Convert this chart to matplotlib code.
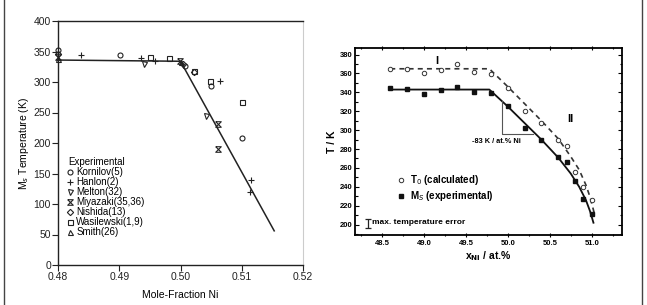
import matplotlib
matplotlib.use("Agg")
import matplotlib.pyplot as plt
from matplotlib.lines import Line2D

plt.rcParams['font.family'] = ['Liberation Sans', 'DejaVu Sans']

# ---------------- Left panel data ----------------
kornilov_x = [0.480, 0.4901, 0.5008, 0.5049, 0.5101]
kornilov_y = [352, 344, 327, 293, 208]
hanlon_x = [0.4838, 0.4935, 0.4958, 0.5064, 0.5115, 0.5114]
hanlon_y = [344, 339, 334, 301, 139, 119]
melton_x = [0.4940, 0.5041]
melton_y = [329, 244]
miyazaki_x = [0.480, 0.4999, 0.5061, 0.5061]
miyazaki_y = [341, 334, 231, 190]
nishida_x = [0.480, 0.5022, 0.5004]
nishida_y = [346, 316, 330]
wasilewski_x = [0.4951, 0.4981, 0.5048, 0.5101, 0.5022]
wasilewski_y = [341, 339, 301, 268, 318]
smith_x = [0.480, 0.5000]
smith_y = [338, 333]
fit_left_x = [0.480, 0.500, 0.5153]
fit_left_y = [336, 334, 56]

# ---------------- Right panel data ----------------
xni = [48.6, 48.8, 49.0, 49.2, 49.4, 49.6, 49.8, 50.0, 50.2, 50.4, 50.6, 50.7, 50.8, 50.9, 51.0]
t0 = [365, 365, 360, 364, 370, 362, 359, 345, 320, 308, 290, 283, 256, 240, 226]
ms = [345, 344, 338, 343, 346, 340, 339, 326, 302, 290, 272, 266, 246, 227, 211]
ms_line_x = [48.6, 49.78, 50.0, 50.4, 50.6, 50.75, 50.85, 50.93, 50.98, 51.02]
ms_line_y = [343, 343, 325, 290, 271, 254, 240, 226, 214, 202]
t0_line_x = [48.6, 49.78, 50.0, 50.4, 50.6, 50.75, 50.85, 50.93, 50.98, 51.03]
t0_line_y = [365, 365, 346, 310, 291, 272, 258, 242, 229, 212]

fig = plt.figure(figsize=(6.47, 3.05), dpi=100)

# outer frame lines
fig.add_artist(Line2D([4/647, 4/647], [0, 1], color='#444444', lw=1.0, transform=fig.transFigure))
fig.add_artist(Line2D([642/647, 642/647], [0, 1], color='#444444', lw=1.0, transform=fig.transFigure))

# ---------------- Left panel ----------------
ax = fig.add_axes([58/647, 1-265/305, 245/647, 244/305])
ax.plot(fit_left_x, fit_left_y, color='#222222', lw=1.1)
mk = dict(linestyle='none', mfc='none', mec='#222222', mew=0.8, color='#222222')
hour = [(-1, 1), (1, 1), (-1, -1), (1, -1), (-1, 1)]
h1, = ax.plot(kornilov_x, kornilov_y, marker='o', ms=3.6, label='Kornilov(5)', **mk)
h2, = ax.plot(hanlon_x, hanlon_y, marker='+', ms=5, label='Hanlon(2)', **mk)
h3, = ax.plot(melton_x, melton_y, marker='v', ms=3.6, label='Melton(32)', **mk)
h4, = ax.plot(miyazaki_x, miyazaki_y, marker=hour, ms=4, label='Miyazaki(35,36)', **mk)
h5, = ax.plot(nishida_x, nishida_y, marker='D', ms=3.2, label='Nishida(13)', **mk)
h6, = ax.plot(wasilewski_x, wasilewski_y, marker='s', ms=3.6, label='Wasilewski(1,9)', **mk)
h7, = ax.plot(smith_x, smith_y, marker='^', ms=3.6, label='Smith(26)', **mk)
for a in (h1, h2, h3, h4, h5, h6, h7):
    a.set_clip_on(False)
ax.set_xlim(0.48, 0.52)
ax.set_ylim(0, 400)
ax.set_xticks([0.48, 0.49, 0.50, 0.51, 0.52])
ax.set_xticklabels(['0.48', '0.49', '0.50', '0.51', '0.52'])
ax.set_yticks(range(0, 401, 50))
ax.tick_params(direction='out', length=4, width=0.8, labelsize=7.5, colors='#222222', pad=1)
for s in ['left', 'bottom', 'top']:
    ax.spines[s].set_linewidth(1.0)
    ax.spines[s].set_color('#222222')
ax.spines['right'].set_color('#cccccc')
ax.spines['right'].set_linewidth(0.8)
ax.set_ylabel('M$_s$ Temperature (K)', fontsize=7.5, labelpad=2)
ax.set_xlabel('Mole-Fraction Ni', fontsize=7.5, labelpad=6)
leg = ax.legend(handles=[h1, h2, h3, h4, h5, h6, h7], title='Experimental', loc='lower left',
                bbox_to_anchor=(0.04, 0.115), frameon=False, fontsize=7, title_fontsize=7,
                handlelength=0.5, handletextpad=0.35, labelspacing=0.0, borderaxespad=0.0,
                alignment='left', numpoints=1, borderpad=0)

# ---------------- Right panel ----------------
bx = fig.add_axes([355/647, 1-235/305, 267/647, 187/305])
bx.plot(t0_line_x, t0_line_y, color='#333333', lw=1.2, ls=(0, (3, 2.5)))
bx.plot(ms_line_x, ms_line_y, color='#111111', lw=1.3)
p1, = bx.plot(xni, t0, 'o', ms=3.2, mfc='white', mec='#333333', mew=0.7, label='T$_0$ (calculated)')
p2, = bx.plot(xni, ms, 's', ms=3.2, mfc='#111111', mec='#111111', label='M$_S$ (experimental)')
# slope triangle
bx.plot([49.93, 49.93, 50.3], [331, 296, 296], color='#555555', lw=0.8)
bx.text(49.86, 288, '-83 K / at.% Ni', fontsize=5.3, fontweight='bold', ha='center', va='center')
bx.text(49.15, 373, 'I', fontsize=8, fontweight='bold', ha='center', va='center')
bx.text(50.74, 312, 'II', fontsize=8, fontweight='bold', ha='center', va='center')
bx.legend(handles=[p1, p2], loc='lower left', bbox_to_anchor=(0.16, 0.17), frameon=False,
          prop={'size': 7, 'weight': 'bold'}, handlelength=0.6, handletextpad=0.7, labelspacing=0.2,
          borderaxespad=0, borderpad=0)
bx.errorbar([48.33], [201], yerr=[4.5], color='#222222', capsize=2.2, lw=0.9, capthick=0.9)
bx.text(48.38, 202, 'max. temperature error', fontsize=6, fontweight='bold', va='center', ha='left')
bx.set_xlim(48.18, 51.36)
bx.set_ylim(189, 387)
bx.set_xticks([48.5, 49.0, 49.5, 50.0, 50.5, 51.0])
bx.set_xticklabels(['48.5', '49.0', '49.5', '50.0', '50.5', '51.0'])
bx.set_yticks(range(200, 381, 20))
bx.set_xticks([48.25, 48.75, 49.25, 49.75, 50.25, 50.75, 51.25], minor=True)
bx.set_yticks(range(190, 390, 20), minor=True)
bx.tick_params(which='both', top=True, right=True, direction='in', width=0.8)
bx.tick_params(which='major', length=3, labelsize=5.5, pad=2)
bx.tick_params(which='minor', length=1.8)
bx.tick_params(axis='x', which='both', bottom=True, direction='inout')
bx.tick_params(axis='y', which='both', left=True)
for lab in bx.get_xticklabels() + bx.get_yticklabels():
    lab.set_fontweight('bold')
for s in bx.spines.values():
    s.set_linewidth(1.3)
bx.set_ylabel('T / K', fontsize=7.5, fontweight='bold', labelpad=2)
bx.set_xlabel('x$_{\\mathbf{Ni}}$ / at.%', fontsize=7.5, fontweight='bold', labelpad=2)

fig.savefig('out.png', dpi=100)
